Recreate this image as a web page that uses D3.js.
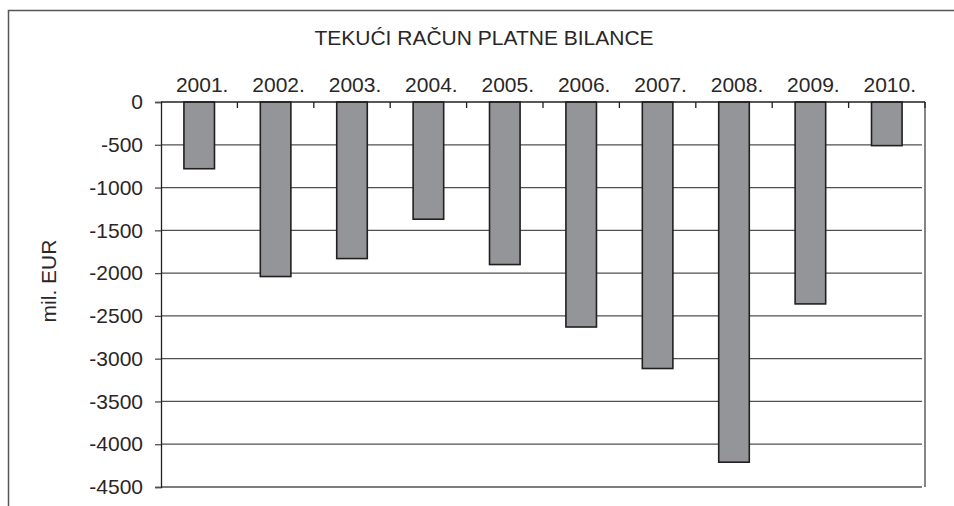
<!DOCTYPE html>
<html>
<head>
<meta charset="utf-8">
<script src="https://cdn.jsdelivr.net/npm/d3@7"></script>
<style>
    body { margin: 0; background: #fff; }
    text { font-family: "Liberation Sans", Arial, sans-serif; fill: #2a2627; }
</style>
</head>
<body>
<div id="chart"></div>
<script>
"use strict";

// data (mil. EUR)
const years = ["2001.", "2002.", "2003.", "2004.", "2005.", "2006.", "2007.", "2008.", "2009.", "2010."];
const balance = [-780, -2040, -1830, -1370, -1900, -2630, -3115, -4210, -2360, -510];
const yTicks = [0, -500, -1000, -1500, -2000, -2500, -3000, -3500, -4000, -4500];
const title = "TEKUĆI RAČUN PLATNE BILANCE";
const yTitle = "mil. EUR";

const msm = {
    width: 954,
    height: 506,
    left: 161,
    right: 925,
    top: 102,
    bottom: 487,
    fontSize: "21px"
}

let svg = d3.select("#chart")
    .append("svg")
    .attr("width", msm.width)
    .attr("height", msm.height);

// outer frame (cut off at right and bottom like the reference)
svg.append("rect")
    .attr("x", 8.5)
    .attr("y", 10.5)
    .attr("width", 980)
    .attr("height", 520)
    .attr("fill", "none")
    .attr("stroke", "#555")
    .attr("stroke-width", 1.5);

let xScale = d3.scaleBand()
    .domain(years)
    .range([msm.left, msm.right])
    .paddingInner(0.6)
    .paddingOuter(0.3);

let yScale = d3.scaleLinear()
    .domain([0, -4500])
    .range([msm.top, msm.bottom]);

// gridlines
svg.append("g")
    .selectAll("line")
    .data(yTicks.filter(d => d != 0))
    .enter()
    .append("line")
    .attr("x1", msm.left)
    .attr("x2", msm.right - 3)
    .attr("y1", d => yScale(d))
    .attr("y2", d => yScale(d))
    .attr("stroke", "#505050")
    .attr("stroke-width", 1.3);

// right edge of plot
svg.append("line")
    .attr("x1", msm.right).attr("x2", msm.right)
    .attr("y1", msm.top).attr("y2", msm.bottom)
    .attr("stroke", "#444")
    .attr("stroke-width", 1.3);

// bars
svg.append("g")
    .selectAll("rect")
    .data(years)
    .enter()
    .append("rect")
    .attr("x", d => xScale(d))
    .attr("y", yScale(0))
    .attr("width", xScale.bandwidth())
    .attr("height", (d, i) => yScale(balance[i]) - yScale(0))
    .attr("fill", "#939598")
    .attr("stroke", "#231f20")
    .attr("stroke-width", 1.6);

// y axis (plain hyphen minus like the reference)
let yAxis = d3.axisLeft(yScale)
    .tickValues(yTicks)
    .tickSize(6)
    .tickPadding(12)
    .tickFormat(d => String(d));
let gy = svg.append("g")
    .attr("transform", "translate(" + msm.left + ",0)")
    .call(yAxis);
gy.select(".domain").attr("stroke", "#231f20").attr("stroke-width", 1.3);
gy.selectAll(".tick line").attr("stroke", "#505050").attr("stroke-width", 1.3);
gy.selectAll("text")
    .style("font-size", msm.fontSize)
    .style("font-family", "Liberation Sans, Arial, sans-serif")
    .attr("fill", "#2a2627");

// top axis at zero: ticks between categories pointing down
let step = xScale.step();
let bounds = years.map((d, i) => msm.left + step * (i + 1));
svg.append("line")
    .attr("x1", msm.left).attr("x2", msm.right)
    .attr("y1", yScale(0)).attr("y2", yScale(0))
    .attr("stroke", "#231f20")
    .attr("stroke-width", 1.3);
svg.append("g")
    .selectAll("line")
    .data(bounds)
    .enter()
    .append("line")
    .attr("x1", d => d).attr("x2", d => d)
    .attr("y1", yScale(0)).attr("y2", yScale(0) + 6)
    .attr("stroke", "#231f20")
    .attr("stroke-width", 1.3);

// category labels above the plot
svg.append("g")
    .selectAll("text")
    .data(years)
    .enter()
    .append("text")
    .attr("x", d => xScale(d) + xScale.bandwidth() / 2 + 3)
    .attr("y", 92)
    .attr("text-anchor", "middle")
    .style("font-size", msm.fontSize)
    .text(d => d);

// title
svg.append("text")
    .attr("x", 484)
    .attr("y", 45)
    .attr("text-anchor", "middle")
    .style("font-size", msm.fontSize)
    .text(title);

// y axis title
svg.append("text")
    .attr("transform", "translate(56,281) rotate(-90)")
    .attr("text-anchor", "middle")
    .style("font-size", msm.fontSize)
    .text(yTitle);
</script>
</body>
</html>
